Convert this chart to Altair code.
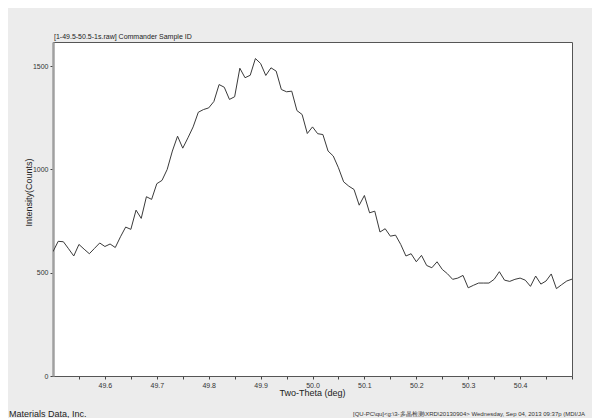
import altair as alt
import pandas as pd

# Two-Theta positions (deg) and intensities (counts)
two_theta = [round(49.5 + 0.01 * i, 2) for i in range(101)]
counts = [
    602, 652, 650, 616, 581, 637, 614, 592, 618, 644,
    627, 639, 622, 674, 721, 710, 803, 763, 868, 855,
    931, 947, 1000, 1089, 1161, 1103, 1153, 1206, 1277, 1290,
    1298, 1329, 1411, 1398, 1339, 1352, 1490, 1444, 1456, 1537,
    1513, 1455, 1492, 1476, 1387, 1376, 1379, 1285, 1266, 1174,
    1206, 1173, 1169, 1089, 1065, 1008, 940, 919, 903, 827,
    874, 790, 798, 697, 713, 677, 682, 637, 581, 592,
    553, 584, 535, 524, 553, 516, 495, 468, 474, 487,
    427, 439, 450, 450, 450, 468, 505, 464, 458, 468,
    474, 464, 434, 484, 445, 460, 494, 423, 442, 460,
    469,
]
x_ticks = [round(49.55 + 0.05 * i, 2) for i in range(20)]
y_ticks = [0, 500, 1000, 1500]

title_text = "[1-49.5-50.5-1s.raw] Commander Sample ID"
footer_left = "Materials Data, Inc."
footer_right = "[QU-PC\\qu]<g:\\3-多晶检测\\XRD\\20130904> Wednesday, Sep 04, 2013 09:37p (MDI/JA"

df = pd.DataFrame({"tt": two_theta, "c": counts})
FONT = "Liberation Sans"

line = alt.Chart(df).mark_line(color="#3a3a3a", strokeWidth=1, clip=True).encode(
    x=alt.X(
        "tt:Q",
        scale=alt.Scale(domain=[49.5, 50.5], nice=False, zero=False),
        axis=alt.Axis(
            values=x_ticks,
            labelExpr="(datum.value > 49.58 && datum.value < 50.42 && round(datum.value*100) % 10 == 0) ? format(datum.value, '.1f') : ''",
            grid=False,
            tickSize=3,
            tickColor="#444",
            domainColor="#555",
            domainWidth=1,
            labelFontSize=7,
            labelFont=FONT,
            labelColor="#333",
            labelPadding=2,
            title="Two-Theta (deg)",
            titleFont=FONT,
            titleFontSize=9,
            titleFontWeight="normal",
            titleColor="#222",
            titleX=259,
            titleY=16,
            titleAlign="center",
            titleBaseline="middle",
        ),
    ),
    y=alt.Y(
        "c:Q",
        scale=alt.Scale(domain=[0, 1617], nice=False, zero=True),
        axis=alt.Axis(
            values=y_ticks,
            format="d",
            grid=False,
            tickSize=3,
            tickColor="#444",
            domainColor="#a0a0a0",
            domainWidth=2.5,
            labelFontSize=7,
            labelFont=FONT,
            labelColor="#333",
            labelPadding=2,
            title="Intensity(Counts)",
            titleFont=FONT,
            titleFontSize=9,
            titleFontWeight="normal",
            titleColor="#222",
            titleAngle=-90,
            titleX=-25,
            titleY=150,
            titleAlign="center",
            titleBaseline="middle",
        ),
    ),
)

footer1 = alt.Chart(pd.DataFrame({"t": [footer_left]})).mark_text(
    font=FONT, fontSize=9, color="#222", align="left", baseline="middle"
).encode(text="t:N", x=alt.value(-44), y=alt.value(372))

footer2 = alt.Chart(pd.DataFrame({"t": [footer_right]})).mark_text(
    font=FONT, fontSize=6, color="#333", align="left", baseline="middle"
).encode(text="t:N", x=alt.value(300), y=alt.value(372))

chart = (
    alt.layer(line, footer1, footer2)
    .properties(
        width=519,
        height=334,
        background="#ececec",
        padding={"left": 45, "top": 34, "right": 20, "bottom": 42},
        autosize=alt.AutoSizeParams(type="none"),
        title=alt.TitleParams(
            title_text,
            anchor="start",
            frame="group",
            font=FONT,
            fontSize=7,
            fontWeight="normal",
            color="#222",
            offset=2,
            dx=1,
        ),
    )
    .configure_view(fill="white", stroke="#555", strokeWidth=1)
)

chart.save("out.html", embed_options={"renderer": "svg", "actions": False})
